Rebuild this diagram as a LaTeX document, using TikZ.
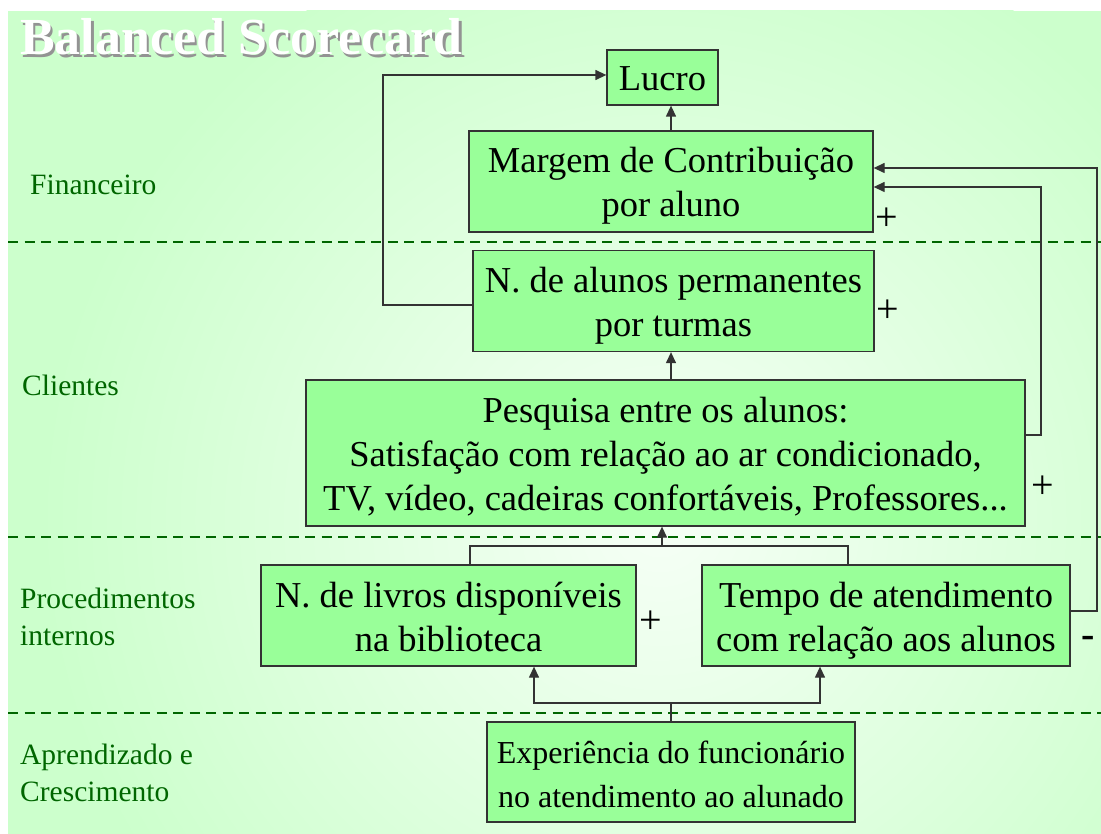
\documentclass[tikz,border=0pt]{standalone}
\usepackage{fontspec}
\setmainfont{Liberation Serif}
\usetikzlibrary{arrows.meta,calc}
\definecolor{bgouter}{HTML}{CCFFCC}
\definecolor{bginner}{HTML}{F6FFF6}
\definecolor{boxfill}{HTML}{99FF99}
\definecolor{lblgreen}{HTML}{006600}
\definecolor{linegray}{HTML}{333333}
\newcommand\topstrut{\rule{0pt}{38pt}}
\newcommand\botstrut{\rule[-11pt]{0pt}{11pt}}
\tikzset{
  box/.style={draw=linegray, line width=1.3pt, fill=boxfill, align=center, inner sep=0pt,
    font=\fontsize{36.5}{44}\selectfont},
  conn/.style={draw=linegray, line width=1.3pt},
  arr/.style={conn, -{Triangle[length=11pt,width=10pt]}},
  sect/.style={anchor=west, align=left, text=lblgreen, inner sep=0pt,
    font=\fontsize{29.5}{37}\selectfont},
  sign/.style={inner sep=0pt, font=\fontsize{40}{44}\selectfont},
  sepline/.style={draw=lblgreen, line width=1.5pt, dash pattern=on 10pt off 6.5pt}
}
\begin{document}
\begin{tikzpicture}[x=1pt,y=-1pt]
\useasboundingbox (0,0) rectangle (1101,834);
\fill[white] (0,0) rectangle (1101,834);
% background
\fill[bgouter] (8,11) rectangle (1101,834);
\begin{scope}
  \clip (8,11) rectangle (1101,834);
  \shade[inner color=bginner, outer color=bgouter] (660,520) circle (620);
\end{scope}
% separators
\draw[sepline] (8,242) -- (1101,242);
\draw[sepline] (8,537) -- (1101,537);
\draw[sepline] (8,713) -- (1101,713);
% title
\node[anchor=base west, inner sep=0pt, text=gray!85, font=\fontsize{52}{58}\selectfont\bfseries] (titleshadow) at (22.5,57.5) {Balanced Scorecard};
\node[anchor=base west, inner sep=0pt, text=white, font=\fontsize{52}{58}\selectfont\bfseries] (title) at (20,55) {Balanced Scorecard};
% section labels
\node[sect] (fin) at (30,185) {Financeiro};
\node[sect] (cli) at (22,385) {Clientes};
\node[sect] (proc) at (20,617) {Procedimentos\\internos};
\node[sect] (apr) at (20,773) {Aprendizado e\\Crescimento};
% boxes
\node[box, minimum width=111pt, minimum height=55pt] (Lucro) at (662.5,77.5) {\topstrut Lucro\botstrut};
\node[box, minimum width=404pt, minimum height=101pt] (Margem) at (671,181.5) {\topstrut Margem de Contribuição\\por aluno\botstrut};
\node[box, minimum width=401pt, minimum height=101pt] (Alunos) at (673.5,301) {\topstrut N. de alunos permanentes\\por turmas\botstrut};
\node[box, minimum width=719pt, minimum height=146pt] (Pesquisa) at (665.5,453) {\topstrut Pesquisa entre os alunos:\\Satisfação com relação ao ar condicionado,\\TV, vídeo, cadeiras confortáveis, Professores...\botstrut};
\node[box, minimum width=375pt, minimum height=101pt] (Livros) at (448.5,615.5) {\topstrut N. de livros disponíveis\\na biblioteca\botstrut};
\node[box, minimum width=368pt, minimum height=101pt] (Tempo) at (886,615.5) {\topstrut Tempo de atendimento\\com relação aos alunos\botstrut};
\node[box, minimum width=368pt, minimum height=100pt, font=\fontsize{32}{44}\selectfont] (Exp) at (671,772) {\topstrut Experiência do funcionário\\no atendimento ao alunado\botstrut};
% signs
\node[sign] (s1) at (887,219) {+};
\node[sign] (s2) at (888,311) {+};
\node[sign] (s3) at (1043,487) {+};
\node[sign] (s4) at (651,622) {+};
\node[sign, font=\fontsize{40}{44}\selectfont\bfseries] (s5) at (1088,642) {-};
% coordinates
\coordinate (j1) at (470,546);
\coordinate (j2) at (848,546);
\coordinate (j3) at (662,546);
\coordinate (k1) at (534,703);
\coordinate (k2) at (820,703);
\coordinate (pa) at (1041,435);
\coordinate (pb) at (1041,187);
\coordinate (ta) at (1097,611);
\coordinate (tb) at (1097,168);
\coordinate (la) at (383,305);
\coordinate (lb) at (383,75);
% connectors
\draw[arr] (Margem.north) -- (Margem.north |- Lucro.south);
\draw[arr] (Pesquisa.north -| Margem.north) -- (Alunos.south -| Margem.north);
\draw[conn] (Livros.north -| j1) -- (j1) -- (j2) -- (Tempo.north -| j2);
\draw[arr] (j3) -- (Pesquisa.south -| j3);
\draw[arr] (Exp.north) |- (k1) -- (Livros.south -| k1);
\draw[arr] (Exp.north) |- (k2) -- (Tempo.south -| k2);
\draw[arr] (Pesquisa.east |- pa) -- (pa) -- (pb) -- (Margem.east |- pb);
\draw[arr] (Tempo.east |- ta) -- (ta) -- (tb) -- (Margem.east |- tb);
\draw[arr] (Alunos.west |- la) -- (la) -- (lb) -- (Lucro.west |- lb);
\end{tikzpicture}
\end{document}
